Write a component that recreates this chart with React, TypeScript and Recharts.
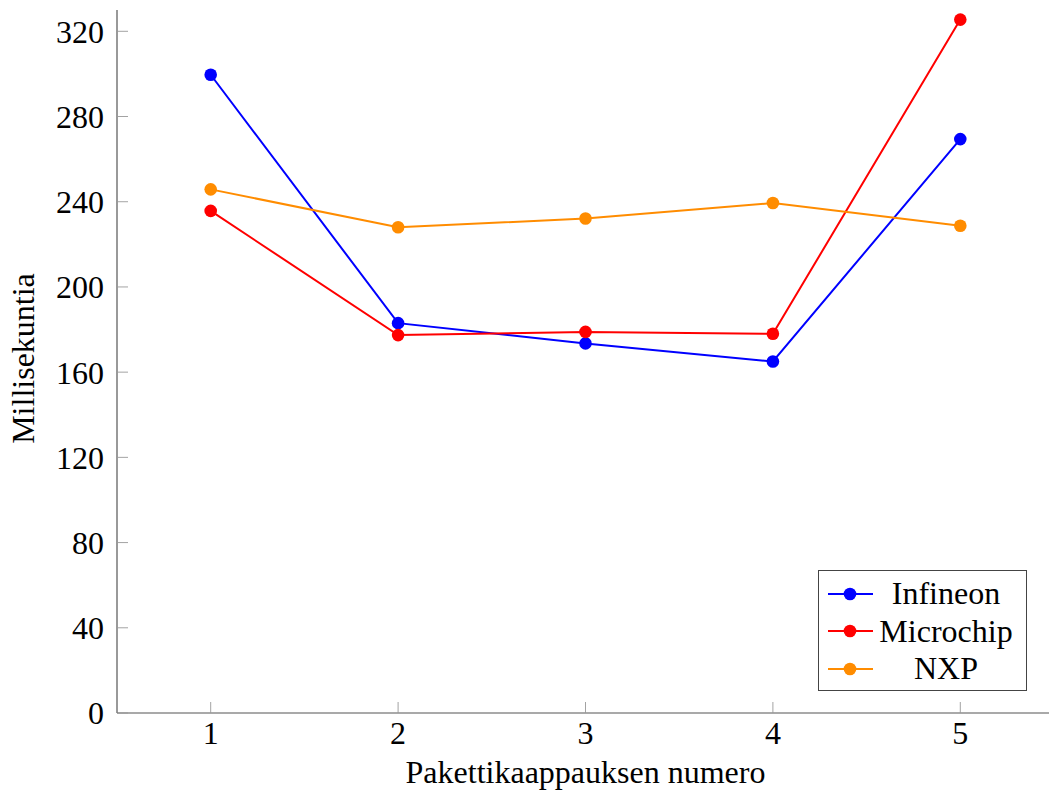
import React from 'react';
import { LineChart, Line, XAxis, YAxis, Legend } from 'recharts';

const categories = [1, 2, 3, 4, 5];
const infineon = [299.6, 183, 173.5, 165, 269.4];
const microchip = [235.7, 177.4, 178.9, 178, 325.5];
const nxp = [245.8, 228, 232.1, 239.4, 228.7];
const seriesNames = ['Infineon', 'Microchip', 'NXP'];
const seriesColors = ['#0000ff', '#ff0000', '#ff8c00'];
const xTicks = [1, 2, 3, 4, 5];
const yTicks = [0, 40, 80, 120, 160, 200, 240, 280, 320];
const xLabel = 'Pakettikaappauksen numero';
const yLabel = 'Millisekuntia';

const seriesValues = [infineon, microchip, nxp];
const data = categories.map((c, i) => {
  const row: Record<string, number> = { x: c };
  seriesNames.forEach((n, k) => {
    row[n] = seriesValues[k][i];
  });
  return row;
});

const FONT = '"Liberation Serif", "Times New Roman", serif';
const FS = 32;
const tickStyle = { fontFamily: FONT, fontSize: FS, fill: '#000' };

const LegendBox = () => (
  <div
    style={{
      width: 209,
      height: 121,
      boxSizing: 'border-box',
      border: '1px solid #444',
      background: '#fff',
      paddingTop: 4,
      fontFamily: FONT,
      fontSize: FS,
      color: '#000',
    }}
  >
    {seriesNames.map((name, i) => (
      <div key={name} style={{ display: 'flex', alignItems: 'center', height: 37.5 }}>
        <svg width={55} height={20} style={{ flex: 'none', display: 'block' }}>
          <line x1={9} x2={54} y1={10} y2={10} stroke={seriesColors[i]} strokeWidth={2} />
          <circle cx={31} cy={10} r={6.3} fill={seriesColors[i]} />
        </svg>
        <div style={{ width: 144, textAlign: 'center', lineHeight: '37.5px', whiteSpace: 'nowrap' }}>{name}</div>
      </div>
    ))}
  </div>
);

const YLabel = (props: any) => {
  const vb = props.viewBox || { x: 0, y: 10, width: 117, height: 703 };
  const cx = 34;
  const cy = vb.y + vb.height / 2 - 3;
  return (
    <text
      x={cx}
      y={cy}
      transform={`rotate(-90, ${cx}, ${cy})`}
      textAnchor="middle"
      fontFamily={FONT}
      fontSize={FS}
      fill="#000"
    >
      {yLabel}
    </text>
  );
};

export default function App() {
  return (
    <div style={{ position: 'absolute', left: 0, top: 0, width: 1049, height: 802, overflow: 'hidden', background: '#fff' }}>
      <LineChart width={1070} height={802} data={data} margin={{ top: 10, right: 16, left: 0, bottom: 0 }}>
        <XAxis
          xAxisId="main"
          dataKey="x"
          type="number"
          domain={[0.5, 5.5]}
          ticks={xTicks}
          allowDataOverflow
          height={89}
          tickSize={-11}
          tickMargin={19.5}
          axisLine={{ stroke: '#555', strokeWidth: 1.2 }}
          tickLine={{ stroke: '#999', strokeWidth: 0.9 }}
          tick={tickStyle}
          label={{ value: xLabel, position: 'insideBottom', offset: 19, style: { fontFamily: FONT, fontSize: FS, fill: '#000' } }}
        />
        <XAxis
          xAxisId="top"
          orientation="top"
          dataKey="x"
          type="number"
          domain={[0.5, 5.5]}
          ticks={xTicks}
          allowDataOverflow
          height={0}
          tickSize={-11}
          axisLine={{ stroke: '#000', strokeWidth: 1.2 }}
          tickLine={{ stroke: '#999', strokeWidth: 0.9 }}
          tick={() => <g />}
        />
        <YAxis
          yAxisId="main"
          type="number"
          domain={[0, 330]}
          ticks={yTicks}
          allowDataOverflow
          width={117}
          tickSize={-11}
          tickMargin={24}
          axisLine={{ stroke: '#555', strokeWidth: 1.2 }}
          tickLine={{ stroke: '#999', strokeWidth: 0.9 }}
          tick={tickStyle}
          label={<YLabel />}
        />
        <YAxis
          yAxisId="right"
          orientation="right"
          type="number"
          domain={[0, 330]}
          ticks={yTicks}
          allowDataOverflow
          width={0}
          tickSize={-11}
          axisLine={{ stroke: '#000', strokeWidth: 1.2 }}
          tickLine={{ stroke: '#999', strokeWidth: 0.9 }}
          tick={() => <g />}
        />
        {seriesNames.map((name, i) => (
          <Line
            key={name}
            xAxisId="main"
            yAxisId="main"
            type="linear"
            dataKey={name}
            stroke={seriesColors[i]}
            strokeWidth={2}
            dot={{ r: 6.3, fill: seriesColors[i], stroke: seriesColors[i], strokeWidth: 0 }}
            activeDot={false}
            isAnimationActive={false}
          />
        ))}
        <Legend
          layout="horizontal"
          verticalAlign="middle"
          align="center"
          content={<LegendBox />}
          wrapperStyle={{ position: 'absolute', left: 818, top: 570, width: 209, height: 121, margin: 0, padding: 0 }}
        />
      </LineChart>
    </div>
  );
}
